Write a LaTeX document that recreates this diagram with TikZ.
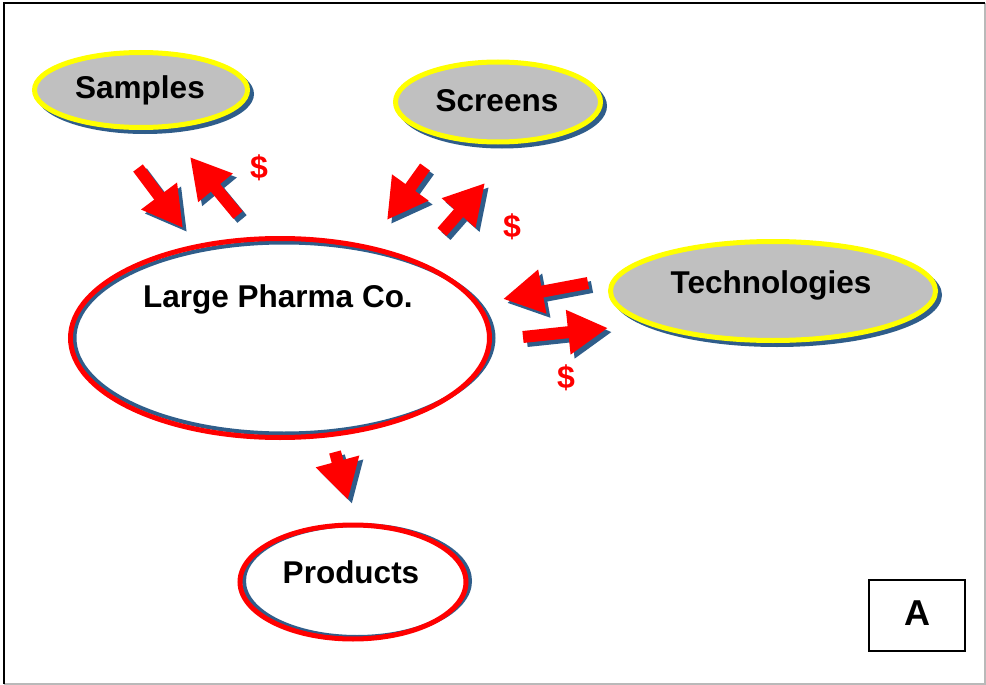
\documentclass[tikz,border=0pt]{standalone}
\usepackage{fontspec}
\setmainfont{Liberation Sans}
\usetikzlibrary{shapes.geometric,arrows.meta,calc}
\definecolor{dropblue}{RGB}{47,93,138}
\definecolor{rim}{RGB}{255,255,0}
\definecolor{pill}{RGB}{192,192,192}

\tikzset{
  source/.style={ellipse, draw=rim, fill=pill, line width=5pt, inner sep=0pt},
  sourceshadow/.style={ellipse, fill=dropblue, inner sep=0pt},
  ring/.style={ellipse, draw=red, line width=5pt, inner sep=0pt},
  ringshadow/.style={ellipse, draw=dropblue, line width=4pt, inner sep=0pt},
  caption/.style={font=\bfseries\fontsize{31.5}{36}\selectfont, anchor=base, inner sep=0pt},
  dollar/.style={font=\bfseries\fontsize{32}{36}\selectfont, text=red, inner sep=0pt},
  flow/.style={line width=12pt, draw=red, fill=red, -{Triangle[length=40pt,width=42pt]}},
  flowshadow/.style={line width=12pt, draw=dropblue, fill=dropblue, -{Triangle[length=40pt,width=42pt]}},
}

% block arrow with a drop shadow, from #1 to #2
\newcommand\blockflow[2]{%
  \draw[flowshadow, transform canvas={shift={(4,4)}}] (#1) -- (#2);
  \draw[flow] (#1) -- (#2);}

\begin{document}
\begin{tikzpicture}[x=1pt, y=-1pt]
  \useasboundingbox (0,0) rectangle (986,685);
  \fill[white] (0,0) rectangle (986,685);

  % page frame
  \draw[gray!55, line width=1.2pt] (985,3) -- (985,684) -- (4,684);
  \draw[black, line width=2pt] (4,684) -- (4,3) -- (985,3);

  % suppliers (grey ovals with yellow rim)
  \node[sourceshadow, minimum width=218pt, minimum height=80pt] (samples-s) at (145,94) {};
  \node[source, minimum width=213pt, minimum height=75pt] (samples) at (141,90) {};
  \node[caption] (samples-t) at (140,99) {Samples};

  \node[sourceshadow, minimum width=210pt, minimum height=85pt] (screens-s) at (502,106) {};
  \node[source, minimum width=205pt, minimum height=80pt] (screens) at (498,102) {};
  \node[caption] (screens-t) at (497,111) {Screens};

  \node[sourceshadow, minimum width=330pt, minimum height=104pt] (tech-s) at (777,295) {};
  \node[source, minimum width=325pt, minimum height=99pt] (tech) at (773,291) {};
  \node[caption] (tech-t) at (771,293) {Technologies};

  % company and its products (red rings)
  \node[ringshadow, minimum width=419pt, minimum height=191pt] (pharma-s) at (284,338) {};
  \node[ring, minimum width=419pt, minimum height=199pt] (pharma) at (280,338) {};
  \node[caption] (pharma-t) at (278,307) {Large Pharma Co.};

  \node[ringshadow, minimum width=226pt, minimum height=112pt] (products-s) at (357,581) {};
  \node[ring, minimum width=226pt, minimum height=114pt] (products) at (353,582) {};
  \node[caption] (products-t) at (351,583) {Products};

  % panel label
  \node[draw=black, line width=2pt, minimum width=96pt, minimum height=71pt, inner sep=0pt] (panel) at (917,615.5) {};
  \node[font=\bfseries\fontsize{36}{40}\selectfont, anchor=base, inner sep=0pt] (panel-t) at (917,625) {A};

  % arrow end points
  \coordinate (s-in-a)  at (138,168); \coordinate (s-in-b)  at (183,228);
  \coordinate (s-pay-a) at (238,215); \coordinate (s-pay-b) at (190,157);
  \coordinate (c-in-a)  at (425,167); \coordinate (c-in-b)  at (387,220);
  \coordinate (c-pay-a) at (442,232); \coordinate (c-pay-b) at (485,183);
  \coordinate (t-in-a)  at (588,283); \coordinate (t-in-b)  at (503,299);
  \coordinate (t-pay-a) at (523,337); \coordinate (t-pay-b) at (608,328);
  \coordinate (p-out-a) at (335,452); \coordinate (p-out-b) at (348,500);

  \blockflow{s-in-a}{s-in-b}
  \blockflow{s-pay-a}{s-pay-b}
  \blockflow{c-in-a}{c-in-b}
  \blockflow{c-pay-a}{c-pay-b}
  \blockflow{t-in-a}{t-in-b}
  \blockflow{t-pay-a}{t-pay-b}
  \blockflow{p-out-a}{p-out-b}

  % payments
  \node[dollar] (pay-samples) at (259,168) {\$};
  \node[dollar] (pay-screens) at (512,227) {\$};
  \node[dollar] (pay-tech) at (566,378) {\$};
\end{tikzpicture}
\end{document}
